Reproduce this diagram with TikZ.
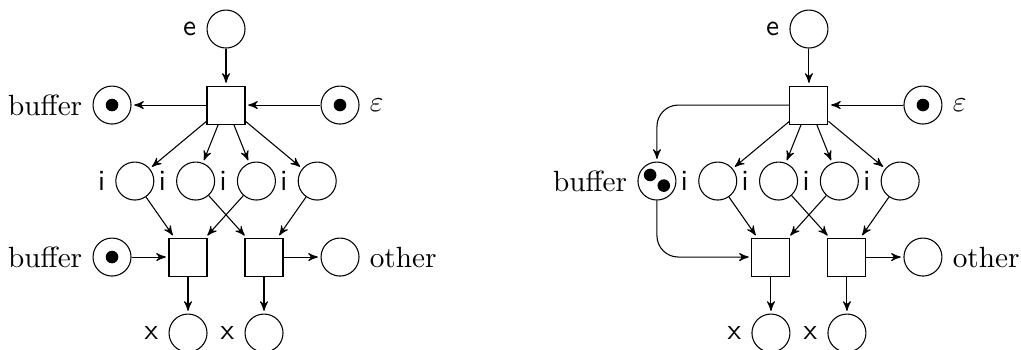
\documentclass[tikz,border=0pt,11pt]{standalone}
\usepackage{amsmath,amssymb}
\usepackage{tikz}
\usetikzlibrary{arrows,petri,positioning,calc}

\begin{document}
\begin{tikzpicture}[>=stealth',
        pl/.style={place,minimum size=5mm},
        tr/.style={transition,minimum size=5mm},
        arr/.style={->,shorten >=1pt},
        roundarr/.style={->,shorten >=1pt,rounded corners=8pt}]
    \useasboundingbox (-2.974,-3.21) rectangle (10.46,1.382);
    % left net
    \node[pl,label=left:\textsf{e}] (le) at (0,1) {};
    \node[tr] (lt) at (0,0) {};
    \node[pl,tokens=1,label=left:buffer] (lbufa) at (-1.5,0) {};
    \node[pl,tokens=1,label=right:$\varepsilon$] (leps) at (1.5,0) {};
    \node[pl,label=left:\textsf{i}] (li1) at (-1.2,-1) {};
    \node[pl,label=left:\textsf{i}] (li2) at (-0.4,-1) {};
    \node[pl,label=left:\textsf{i}] (li3) at (0.4,-1) {};
    \node[pl,label=left:\textsf{i}] (li4) at (1.2,-1) {};
    \node[tr] (lta) at (-0.5,-2) {};
    \node[tr] (ltb) at (0.5,-2) {};
    \node[pl,tokens=1,label=left:buffer] (lbufb) at (-1.5,-2) {};
    \node[pl,label=right:other] (loth) at (1.5,-2) {};
    \node[pl,label=left:\textsf{x}] (lxa) at (-0.5,-3) {};
    \node[pl,label=left:\textsf{x}] (lxb) at (0.5,-3) {};
    \draw[arr] (le) -- (lt);
    \draw[arr] (lt) -- (lbufa);
    \draw[arr] (leps) -- (lt);
    \draw[arr] (lt) -- (li1);
    \draw[arr] (lt) -- (li2);
    \draw[arr] (lt) -- (li3);
    \draw[arr] (lt) -- (li4);
    \draw[arr] (li1) -- (lta);
    \draw[arr] (li3) -- (lta);
    \draw[arr] (li2) -- (ltb);
    \draw[arr] (li4) -- (ltb);
    \draw[arr] (lbufb) -- (lta);
    \draw[arr] (ltb) -- (loth);
    \draw[arr] (lta) -- (lxa);
    \draw[arr] (ltb) -- (lxb);
    % right net
    \begin{scope}[xshift=7.67cm]
    \node[pl,label=left:\textsf{e}] (re) at (0,1) {};
    \node[tr] (rt) at (0,0) {};
    \node[pl,tokens=1,label=right:$\varepsilon$] (reps) at (1.5,0) {};
    \node[pl,label=left:buffer] (rbuf) at (-2,-1) {};
    \node[pl,label=left:\textsf{i}] (ri1) at (-1.2,-1) {};
    \node[pl,label=left:\textsf{i}] (ri2) at (-0.4,-1) {};
    \node[pl,label=left:\textsf{i}] (ri3) at (0.4,-1) {};
    \node[pl,label=left:\textsf{i}] (ri4) at (1.2,-1) {};
    \node[tr] (rta) at (-0.5,-2) {};
    \node[tr] (rtb) at (0.5,-2) {};
    \node[pl,label=right:other] (roth) at (1.5,-2) {};
    \node[pl,label=left:\textsf{x}] (rxa) at (-0.5,-3) {};
    \node[pl,label=left:\textsf{x}] (rxb) at (0.5,-3) {};
    \end{scope}
    % the two tokens of the buffer
    \node[token] (rtoka) at ($(rbuf)+(-0.09,0.08)$) {};
    \node[token] (rtokb) at ($(rbuf)+(0.09,-0.06)$) {};
    \draw[arr] (re) -- (rt);
    \draw[arr] (reps) -- (rt);
    \draw[roundarr] (rt) -| (rbuf);
    \draw[roundarr] (rbuf) |- (rta);
    \draw[arr] (rt) -- (ri1);
    \draw[arr] (rt) -- (ri2);
    \draw[arr] (rt) -- (ri3);
    \draw[arr] (rt) -- (ri4);
    \draw[arr] (ri1) -- (rta);
    \draw[arr] (ri3) -- (rta);
    \draw[arr] (ri2) -- (rtb);
    \draw[arr] (ri4) -- (rtb);
    \draw[arr] (rtb) -- (roth);
    \draw[arr] (rta) -- (rxa);
    \draw[arr] (rtb) -- (rxb);
\end{tikzpicture}
\end{document}
